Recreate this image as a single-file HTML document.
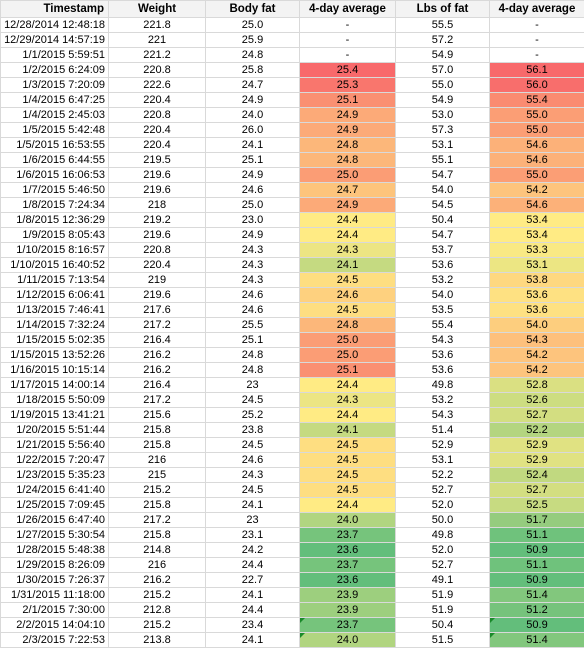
<!DOCTYPE html>
<html><head><meta charset="utf-8">
<style>
body{margin:0;background:#fff;font-family:"Liberation Sans",Arial,sans-serif;}
table{border-collapse:collapse;table-layout:fixed;width:584px;}
td,th{border:1px solid #d9d9d9;padding:0 2px;height:14px;font-size:11px;color:#000;white-space:nowrap;overflow:hidden;position:relative;line-height:14px;}
th{height:16px;font-size:11.5px;font-weight:bold;background:#f3f3f3;text-align:center;}
th.ts{text-align:right;padding-right:4px;}
td{text-align:center;}
td.ts{text-align:right;padding-right:3px;}
.tri{position:absolute;left:0;top:0;width:0;height:0;border-top:5px solid #1a8a2a;border-right:5px solid transparent;}
</style></head>
<body>
<table>
<colgroup><col style="width:108px"><col style="width:97px"><col style="width:94px"><col style="width:96px"><col style="width:94px"><col style="width:95px"></colgroup>
<thead><tr>
<th class="ts">Timestamp</th>
<th>Weight</th>
<th>Body fat</th>
<th>4-day average</th>
<th>Lbs of fat</th>
<th>4-day average</th>
</tr></thead>
<tbody id="tb"></tbody>
</table>
<script>
const timestamps=["12/28/2014 12:48:18","12/29/2014 14:57:19","1/1/2015 5:59:51","1/2/2015 6:24:09","1/3/2015 7:20:09","1/4/2015 6:47:25","1/4/2015 2:45:03","1/5/2015 5:42:48","1/5/2015 16:53:55","1/6/2015 6:44:55","1/6/2015 16:06:53","1/7/2015 5:46:50","1/8/2015 7:24:34","1/8/2015 12:36:29","1/9/2015 8:05:43","1/10/2015 8:16:57","1/10/2015 16:40:52","1/11/2015 7:13:54","1/12/2015 6:06:41","1/13/2015 7:46:41","1/14/2015 7:32:24","1/15/2015 5:02:35","1/15/2015 13:52:26","1/16/2015 10:15:14","1/17/2015 14:00:14","1/18/2015 5:50:09","1/19/2015 13:41:21","1/20/2015 5:51:44","1/21/2015 5:56:40","1/22/2015 7:20:47","1/23/2015 5:35:23","1/24/2015 6:41:40","1/25/2015 7:09:45","1/26/2015 6:47:40","1/27/2015 5:30:54","1/28/2015 5:48:38","1/29/2015 8:26:09","1/30/2015 7:26:37","1/31/2015 11:18:00","2/1/2015 7:30:00","2/2/2015 14:04:10","2/3/2015 7:22:53"];
const weights=["221.8","221","221.2","220.8","222.6","220.4","220.8","220.4","220.4","219.5","219.6","219.6","218","219.2","219.6","220.8","220.4","219","219.6","217.6","217.2","216.4","216.2","216.2","216.4","217.2","215.6","215.8","215.8","216","215","215.2","215.8","217.2","215.8","214.8","216","216.2","215.2","212.8","215.2","213.8"];
const bodyFat=["25.0","25.9","24.8","25.8","24.7","24.9","24.0","26.0","24.1","25.1","24.9","24.6","25.0","23.0","24.9","24.3","24.3","24.3","24.6","24.6","25.5","25.1","24.8","24.8","23","24.5","25.2","23.8","24.5","24.6","24.3","24.5","24.1","23","23.1","24.2","24.4","22.7","24.1","24.4","23.4","24.1"];
const fatAvg=[null,null,null,25.4,25.3,25.1,24.9,24.9,24.8,24.8,25.0,24.7,24.9,24.4,24.4,24.3,24.1,24.5,24.6,24.5,24.8,25.0,25.0,25.1,24.4,24.3,24.4,24.1,24.5,24.5,24.5,24.5,24.4,24.0,23.7,23.6,23.7,23.6,23.9,23.9,23.7,24.0];
const lbsFat=["55.5","57.2","54.9","57.0","55.0","54.9","53.0","57.3","53.1","55.1","54.7","54.0","54.5","50.4","54.7","53.7","53.6","53.2","54.0","53.5","55.4","54.3","53.6","53.6","49.8","53.2","54.3","51.4","52.9","53.1","52.2","52.7","52.0","50.0","49.8","52.0","52.7","49.1","51.9","51.9","50.4","51.5"];
const lbsAvg=[null,null,null,56.1,56.0,55.4,55.0,55.0,54.6,54.6,55.0,54.2,54.6,53.4,53.4,53.3,53.1,53.8,53.6,53.6,54.0,54.3,54.2,54.2,52.8,52.6,52.7,52.2,52.9,52.9,52.4,52.7,52.5,51.7,51.1,50.9,51.1,50.9,51.4,51.2,50.9,51.4];
const flagged=[40,41];

function lerp(a,b,t){return a.map((v,i)=>Math.round(v+(b[i]-v)*t));}
const RED=[248,105,107],YEL=[255,235,132],GRN=[99,190,123];
function scale(v,min,mid,max){
  let c;
  if(v>=mid)c=lerp(YEL,RED,Math.min(1,(v-mid)/(max-mid)));
  else c=lerp(YEL,GRN,Math.min(1,(mid-v)/(mid-min)));
  return `rgb(${c.join(',')})`;
}
const fa=fatAvg.filter(v=>v!==null),la=lbsAvg.filter(v=>v!==null);
const fMin=Math.min(...fa),fMax=Math.max(...fa),lMin=Math.min(...la),lMax=Math.max(...la);
const fMid=24.4,lMid=53.4;
const tb=document.getElementById('tb');
timestamps.forEach((ts,i)=>{
  const tr=document.createElement('tr');
  
  
  const cells=[[ts,'timestamp-cell'],[weights[i],'weight-cell'],[bodyFat[i],'body-fat-cell'],[fatAvg[i],'fat-avg-cell'],[lbsFat[i],'lbs-fat-cell'],[lbsAvg[i],'lbs-avg-cell']];
  cells.forEach(([v,n],j)=>{
    const td=document.createElement('td');
    
    
    if(j===0)td.className='ts';
    if(j===3||j===5){
      if(v===null){td.textContent='-';}
      else{
        td.textContent=v.toFixed(1);
        td.style.background=j===3?scale(v,fMin,fMid,fMax):scale(v,lMin,lMid,lMax);
        if(flagged.includes(i)){const t=document.createElement('span');t.className='tri';td.appendChild(t);}
      }
    } else td.textContent=v;
    tr.appendChild(td);
  });
  tb.appendChild(tr);
});
</script>
</body></html>
